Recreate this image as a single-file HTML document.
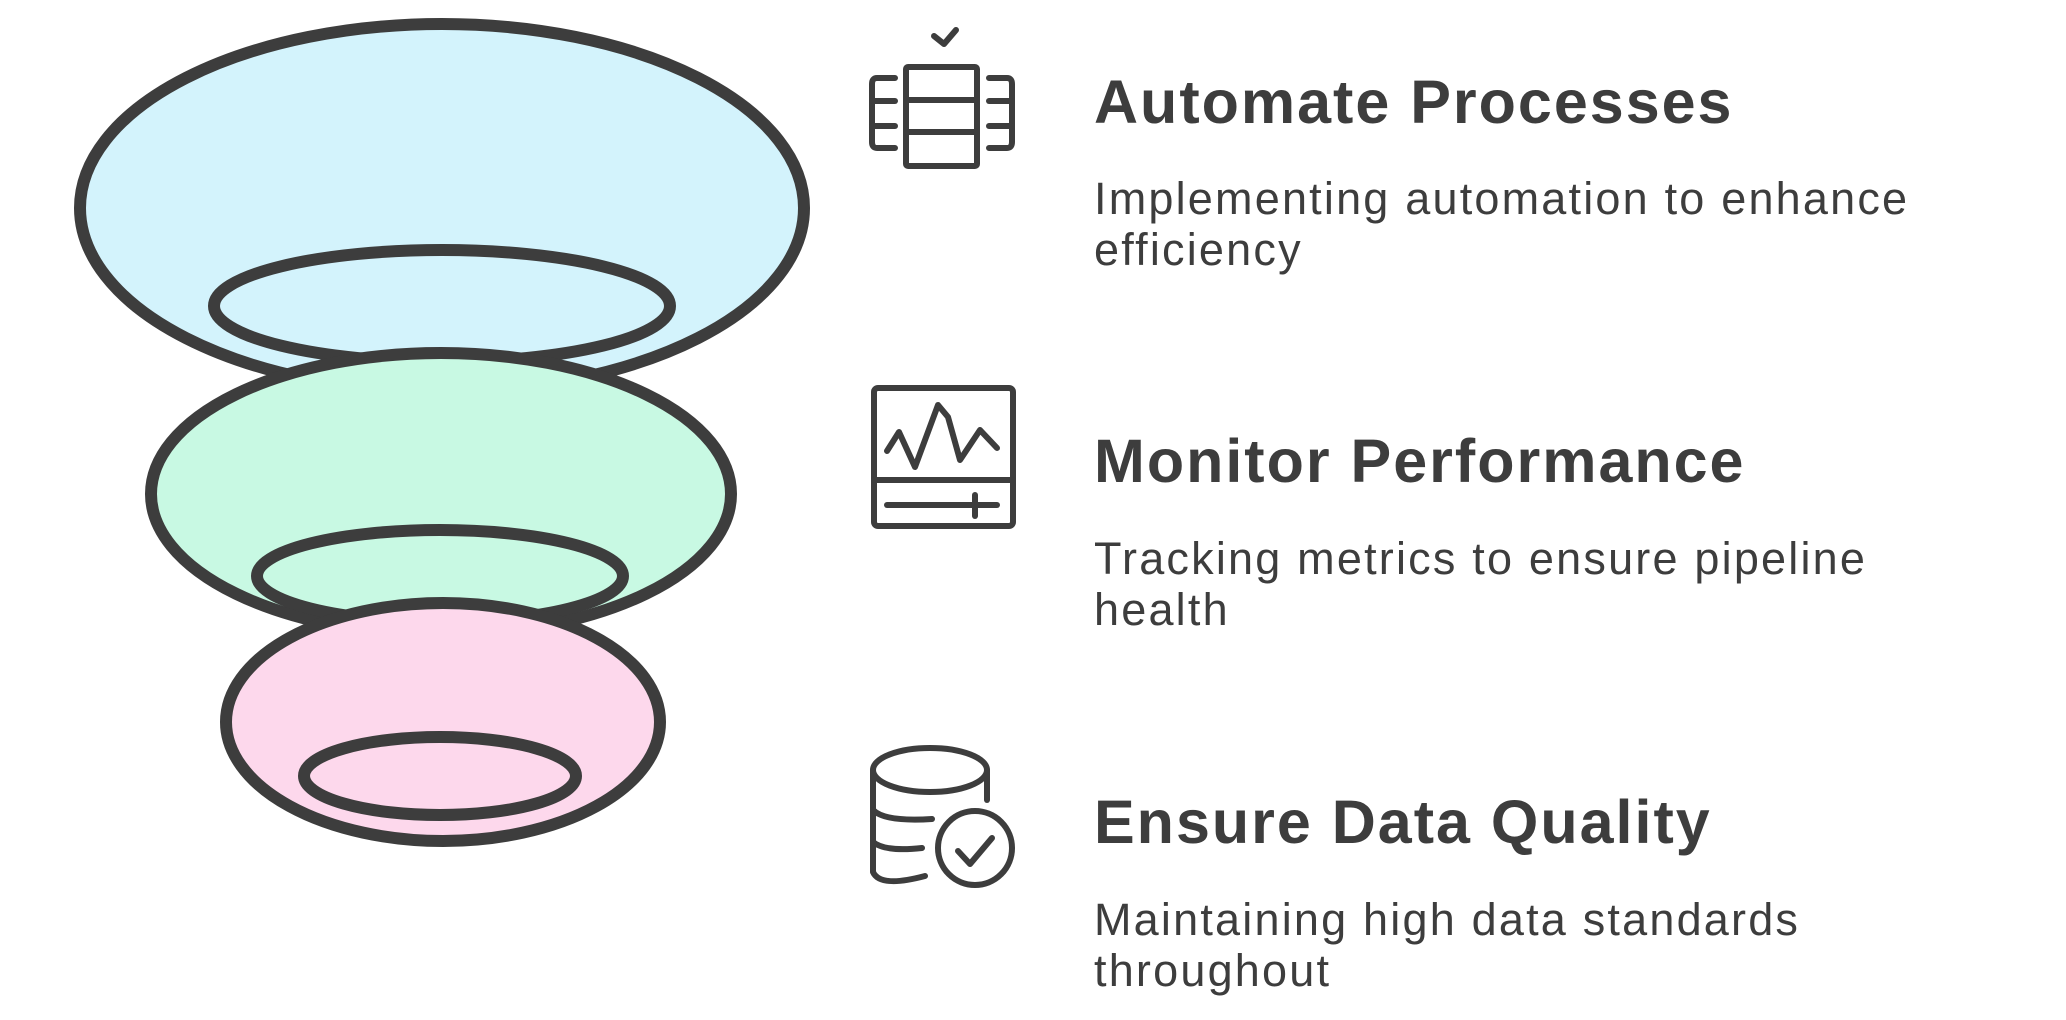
<!DOCTYPE html>
<html><head><meta charset="utf-8"><style>
html,body{margin:0;padding:0;background:#fff;}
body{width:2066px;height:1020px;position:relative;overflow:hidden;font-family:"Liberation Sans",sans-serif;color:#3d3d3d;}
.t{position:absolute;left:1094px;font-weight:bold;font-size:61px;letter-spacing:2px;line-height:1;white-space:nowrap;}
.d{position:absolute;left:1094px;font-size:45px;letter-spacing:2.2px;line-height:51px;white-space:nowrap;}
</style></head><body>
<svg width="2066" height="1020" style="position:absolute;left:0;top:0" fill="none" stroke="#3d3d3d" stroke-linecap="round" stroke-linejoin="round">
<g stroke-width="12">
<ellipse cx="442" cy="208" rx="362" ry="184" fill="#d3f3fc"/>
<ellipse cx="442" cy="306" rx="228" ry="56" fill="#d3f3fc"/>
<ellipse cx="441" cy="494" rx="290" ry="141" fill="#c8f9e3"/>
<ellipse cx="440" cy="576" rx="183" ry="46" fill="#c8f9e3"/>
<ellipse cx="443" cy="722" rx="217" ry="119" fill="#fdd8ec"/>
<ellipse cx="440" cy="776" rx="136" ry="39" fill="#fdd8ec"/>
</g>
<g stroke-width="6">
<polyline points="934,36 944,44 956,30"/>
<rect x="906" y="67" width="71" height="99" rx="2"/>
<line x1="906" y1="100" x2="977" y2="100"/><line x1="906" y1="132" x2="977" y2="132"/>
<path d="M895,78 L877,78 Q872,78 872,84 L872,142 Q872,148 877,148 L895,148"/>
<line x1="872" y1="101" x2="895" y2="101"/><line x1="872" y1="126" x2="895" y2="126"/>
<path d="M989,78 L1007,78 Q1012,78 1012,84 L1012,142 Q1012,148 1007,148 L989,148"/>
<line x1="989" y1="101" x2="1012" y2="101"/><line x1="989" y1="126" x2="1012" y2="126"/>
<rect x="874" y="388" width="139" height="138" rx="4"/>
<line x1="874" y1="480" x2="1013" y2="480"/>
<polyline points="887,451 899,432 915,467 938,405 948,417 960,460 980,430 997,448"/>
<line x1="887" y1="505" x2="997" y2="505"/>
<line x1="975" y1="495" x2="975" y2="516"/>
<ellipse cx="930" cy="770" rx="57" ry="22"/>
<path d="M873,770 L873,872 Q880,888 925,876"/>
<line x1="987" y1="770" x2="987" y2="800"/>
<path d="M873,810 Q885,822 932,819"/>
<path d="M873,842 Q885,852 922,848"/>
<circle cx="975" cy="848" r="37"/>
<polyline points="958,851 970,864 992,838"/>
</g>
</svg>
<div class="t" style="top:72px">Automate Processes</div>
<div class="d" style="top:173px">Implementing automation to enhance<br>efficiency</div>
<div class="t" style="top:431px">Monitor Performance</div>
<div class="d" style="top:533px">Tracking metrics to ensure pipeline<br>health</div>
<div class="t" style="top:792px">Ensure Data Quality</div>
<div class="d" style="top:894px">Maintaining high data standards<br>throughout</div>
</body></html>
